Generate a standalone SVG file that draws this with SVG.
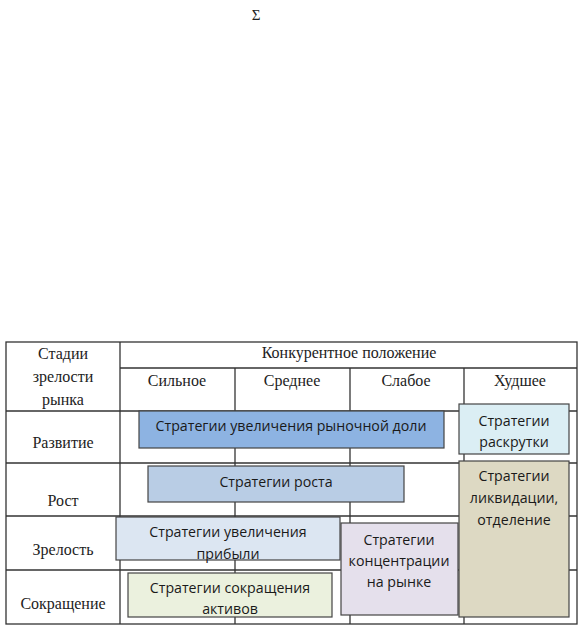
<svg xmlns="http://www.w3.org/2000/svg" width="585" height="630" viewBox="0 0 585 630">
<style>
.t{font-family:"Liberation Serif","Times New Roman",serif;font-size:16px;fill:#222;text-anchor:middle}
.b{font-family:"Open Sans","Noto Sans","Liberation Sans",sans-serif;font-size:14.2px;fill:#1a1a1a;text-anchor:middle}
.ln{stroke:#333;stroke-width:1.3;fill:none}
.box{stroke:#444;stroke-width:1.2}
</style>
<rect width="585" height="630" fill="#fff"/>
<text x="256" y="20" class="t" style="font-size:15px">Σ</text>
<g id="table">
<rect x="6" y="342" width="571" height="282" class="ln"/>
<line x1="120" y1="342" x2="120" y2="624" class="ln"/>
<line x1="120" y1="368" x2="577" y2="368" class="ln"/>
<line x1="6" y1="411" x2="577" y2="411" class="ln"/>
<line x1="6" y1="463" x2="577" y2="463" class="ln"/>
<line x1="6" y1="516" x2="577" y2="516" class="ln"/>
<line x1="6" y1="570" x2="577" y2="570" class="ln"/>
<line x1="235" y1="368" x2="235" y2="624" class="ln"/>
<line x1="350" y1="368" x2="350" y2="624" class="ln"/>
<line x1="464" y1="368" x2="464" y2="624" class="ln"/>
<text x="63" y="359" class="t">Стадии</text>
<text x="63" y="382" class="t">зрелости</text>
<text x="63" y="405" class="t">рынка</text>
<text x="349" y="358" class="t">Конкурентное  положение</text>
<text x="177" y="386" class="t">Сильное</text>
<text x="292" y="386" class="t">Среднее</text>
<text x="406" y="386" class="t">Слабое</text>
<text x="520" y="386" class="t">Худшее</text>
<text x="63" y="448" class="t">Развитие</text>
<text x="63" y="506" class="t">Рост</text>
<text x="63" y="555" class="t">Зрелость</text>
<text x="63" y="609" class="t">Сокращение</text>
</g>
<g id="share">
<rect x="139" y="411" width="305" height="37" fill="#8db3e2" class="box"/>
<text x="291" y="431" class="b">Стратегии увеличения рыночной доли</text>
</g>
<g id="promo">
<rect x="459" y="404" width="110" height="50" fill="#dbeef4" class="box"/>
<text x="514" y="426" class="b">Стратегии</text>
<text x="514" y="447" class="b">раскрутки</text>
</g>
<g id="growth">
<rect x="148" y="466" width="256" height="36" fill="#b9cde5" class="box"/>
<text x="276" y="487" class="b">Стратегии роста</text>
</g>
<g id="liquidation">
<rect x="459" y="461" width="110" height="156" fill="#ddd9c3" class="box"/>
<text x="514" y="481" class="b">Стратегии</text>
<text x="514" y="503" class="b">ликвидации,</text>
<text x="514" y="525" class="b">отделение</text>
</g>
<g id="profit">
<rect x="116" y="517" width="224" height="43" fill="#dce6f2" class="box"/>
<text x="228" y="537" class="b">Стратегии увеличения</text>
<text x="228" y="559" class="b">прибыли</text>
</g>
<g id="concentration">
<rect x="341" y="523" width="117" height="92" fill="#e5e0ec" class="box"/>
<text x="399" y="545" class="b">Стратегии</text>
<text x="399" y="566" class="b">концентрации</text>
<text x="399" y="587" class="b">на рынке</text>
</g>
<g id="reduction">
<rect x="128" y="573" width="204" height="44" fill="#ebf1de" class="box"/>
<text x="230" y="593" class="b">Стратегии сокращения</text>
<text x="230" y="614" class="b">активов</text>
</g>
</svg>
